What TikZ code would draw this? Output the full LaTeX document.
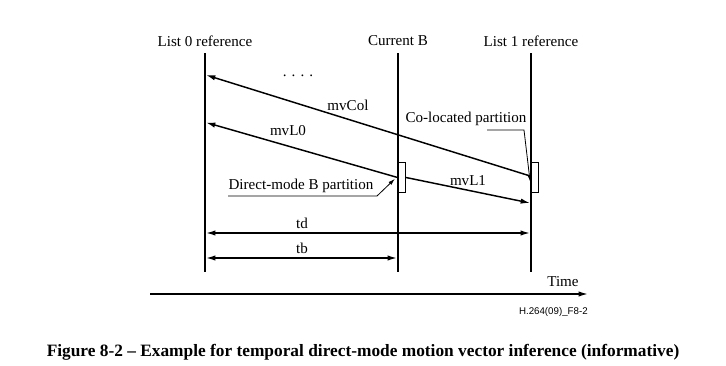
\documentclass[tikz,border=0pt]{standalone}
\usepackage{fontspec}
\setmainfont{Liberation Serif}
\newfontfamily\figsans{Liberation Sans}
\usetikzlibrary{arrows.meta}
\tikzset{
  % lines of the three pictures, motion vectors and spans
  frame line/.style={line width=1.5pt},
  mv arrow/.style={-{Latex[length=7pt,width=4pt]},line width=1.1pt},
  span arrow/.style={{Latex[length=7pt,width=4pt]}-{Latex[length=7pt,width=4pt]},line width=1.1pt},
  leader/.style={-{Latex[length=5pt,width=3pt]},line width=0.6pt},
  partition/.style={rectangle,draw,line width=0.75pt,minimum width=5.6pt,minimum height=22pt,inner sep=0},
  label text/.style={font=\fontsize{11.3}{13}\selectfont,inner sep=0}
}

\begin{document}
\begin{tikzpicture}[x=0.75pt,y=-0.75pt]
\useasboundingbox (0,0) rectangle (726,365);
% picture headings and time lines
\node[label text] (l0) at (205,41) {List 0 reference};
\node[label text] (cb) at (398,41) {Current B};
\node[label text] (l1) at (531,41) {List 1 reference};
\coordinate (l0 top) at (205,53); \coordinate (l0 bot) at (205,272);
\coordinate (cb top) at (398,53); \coordinate (cb bot) at (398,272);
\coordinate (l1 top) at (531,53); \coordinate (l1 bot) at (531,272);
\draw[frame line] (l0 top) -- (l0 bot);
\draw[frame line] (cb top) -- (cb bot);
\draw[frame line] (l1 top) -- (l1 bot);
% partitions
\node[partition] (bpart) at (401.8,177.5) {};
\node[partition] (colpart) at (535,177.5) {};
% motion vectors
\coordinate (col tip) at (206,75);
\coordinate (l0 tip) at (206,122.5);
\coordinate (l1 tip) at (530,203);
\draw[mv arrow] ([yshift=1pt]colpart.west) -- (col tip);
\draw[mv arrow] (bpart.west) -- (l0 tip);
\draw[mv arrow] (bpart.east) -- (l1 tip);
\node[label text,anchor=base] (dots) at (298,76) {. . . .};
\node[label text] (mvcol) at (348,105.5) {mvCol};
\node[label text] (mvl0) at (288,131) {mvL0};
\node[label text] (mvl1) at (468,181) {mvL1};
% partition labels
\node[label text] (coltext) at (466,119) {Co-located partition};
\coordinate (col a) at (487,130); \coordinate (col b) at (524,130);
\draw[leader] (col a) -- (col b) -- ([xshift=-0.5pt,yshift=-3pt]colpart.west);
\node[label text] (btext) at (301,186) {Direct-mode B partition};
\coordinate (b a) at (228,196); \coordinate (b b) at (377,196);
\draw[leader] (b a) -- (b b) -- ([xshift=-2pt,yshift=-1pt]bpart.west);
% td and tb
\coordinate (td a) at (206,233); \coordinate (td b) at (530,233);
\coordinate (tb a) at (206,258); \coordinate (tb b) at (397,258);
\draw[span arrow] (td a) -- (td b);
\draw[span arrow] (tb a) -- (tb b);
\node[label text] (td) at (302,223) {td};
\node[label text] (tb) at (302,248) {tb};
% time axis
\coordinate (t a) at (150,294); \coordinate (t b) at (588,294);
\draw[mv arrow] (t a) -- (t b);
\node[label text] (time) at (563,282) {Time};
\node[anchor=east,inner sep=0,font=\figsans\fontsize{7.3}{8}\selectfont] (fig id) at (588,312) {H.264(09)\_F8-2};
\node[inner sep=0,font=\fontsize{13}{15}\bfseries] (caption) at (363,352) {Figure 8-2 -- Example for temporal direct-mode motion vector inference (informative)};
\end{tikzpicture}
\end{document}
